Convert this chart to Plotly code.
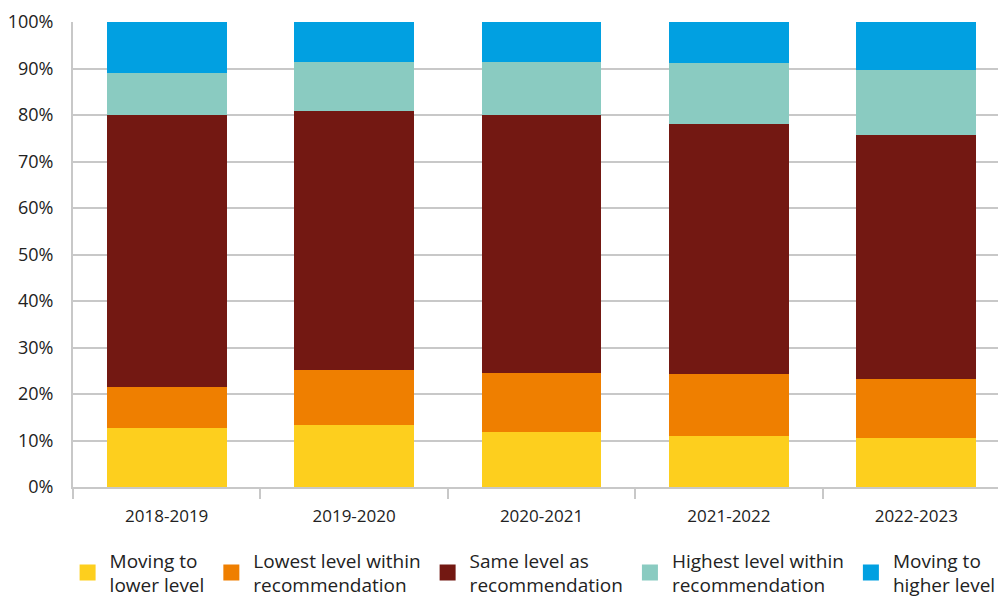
import plotly.graph_objects as go

categories = ["2018-2019", "2019-2020", "2020-2021", "2021-2022", "2022-2023"]
series_names = [
    "Moving to<br>lower level",
    "Lowest level within<br>recommendation",
    "Same level as<br>recommendation",
    "Highest level within<br>recommendation",
    "Moving to<br>higher level",
]
moving_lower = [12.6, 13.3, 11.8, 10.9, 10.5]
lowest_within = [8.8, 11.9, 12.7, 13.3, 12.7]
same_level = [58.7, 55.6, 55.6, 53.8, 52.4]
highest_within = [8.9, 10.5, 11.4, 13.1, 14.0]
moving_higher = [11.0, 8.7, 8.5, 8.9, 10.4]
colors = ["#FDCF1E", "#EF7F00", "#731812", "#8ACBC1", "#01A0E1"]
y_ticks = [0, 10, 20, 30, 40, 50, 60, 70, 80, 90, 100]
y_tick_labels = [f"{v}%" for v in y_ticks]

series = [moving_lower, lowest_within, same_level, highest_within, moving_higher]

fig = go.Figure()
for name, vals, col in zip(series_names, series, colors):
    fig.add_trace(go.Bar(x=categories, y=vals, name=name, marker_color=col,
                         marker_line_width=0, width=0.64, showlegend=False,
                         legendgroup=name))
# legend entries with larger square symbols
for name, col in zip(series_names, colors):
    fig.add_trace(go.Scatter(x=[None], y=[None], mode="markers", name=name,
                             legendgroup=name,
                             marker=dict(symbol="square", size=16, color=col,
                                         line=dict(width=0))))

fig.update_layout(
    barmode="stack",
    width=998, height=597,
    margin=dict(l=73, r=0, t=22, b=110, autoexpand=False),
    plot_bgcolor="white", paper_bgcolor="white",
    font=dict(family="Open Sans", size=18, color="#222222"),
    legend=dict(orientation="h", x=-0.008, xanchor="left", y=-0.117, yanchor="top",
                font=dict(size=19, color="#222222"), traceorder="normal",
                itemsizing="trace", itemwidth=34, tracegroupgap=0),
    bargap=0.36,
)
fig.update_xaxes(range=[-0.5, 4.436], showline=True, linecolor="#c8c8c8", linewidth=2,
                 ticks="outside", tickson="boundaries", ticklen=10, tickcolor="#c8c8c8",
                 tickwidth=2, tickfont=dict(size=17), showgrid=False,
                 ticklabelstandoff=13)
fig.update_yaxes(range=[0, 100], tickvals=y_ticks, ticktext=y_tick_labels,
                 showgrid=True, gridcolor="#c8c8c8", gridwidth=2,
                 showline=True, linecolor="#c8c8c8", linewidth=2,
                 ticks="", ticklabelstandoff=14, zeroline=False)

fig.write_html("out.html")
